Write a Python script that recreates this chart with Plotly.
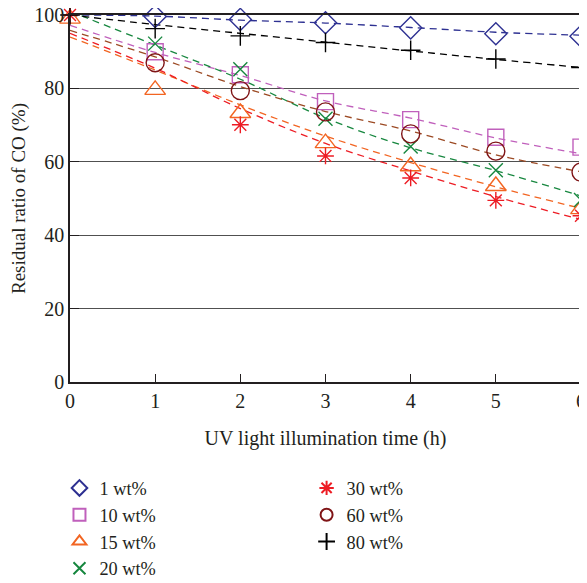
import plotly.graph_objects as go

hours = [0, 1, 2, 3, 4, 5, 6]
series_names = ["1 wt%", "10 wt%", "15 wt%", "20 wt%", "30 wt%", "60 wt%", "80 wt%"]

# measured points (%)
pts_1 = [100.5, 99.6, 98.8, 97.9, 96.5, 94.9, 94.2]
pts_10 = [100.5, 90.0, 83.7, 76.4, 71.5, 66.7, 64.0]
pts_15 = [99.0, 79.6, 73.3, 65.1, 58.8, 53.4, 47.1]
pts_20 = [101.0, 92.2, 85.2, 71.7, 64.2, 57.7, 49.6]
pts_30 = [100.0, None, 70.1, 61.6, 55.6, 49.5, 45.3]
pts_60 = [100.5, 87.0, 79.4, 73.6, 67.6, 62.9, 57.2]
pts_80 = [100.0, 96.3, 94.3, 92.5, 90.4, 88.0, 85.7]

# fitted (dashed) curves (%)
fit_1 = [100.0, 99.7, 98.6, 97.8, 96.6, 95.3, 94.5]
fit_10 = [97.2, 89.8, 83.5, 76.6, 71.9, 66.5, 62.2]
fit_15 = [94.0, 85.0, 75.5, 67.0, 59.8, 53.2, 47.3]
fit_20 = [101.0, 91.8, 82.5, 71.9, 63.8, 57.6, 50.7]
fit_30 = [95.0, 85.5, 74.5, 65.0, 57.5, 50.5, 44.3]
fit_60 = [95.8, 88.6, 80.5, 73.7, 68.4, 61.9, 57.3]
fit_80 = [100.0, 97.4, 95.0, 92.6, 90.2, 87.9, 85.7]

x_ticks = [0, 1, 2, 3, 4, 5, 6]
y_ticks = [0, 20, 40, 60, 80, 100]

points = [pts_1, pts_10, pts_15, pts_20, pts_30, pts_60, pts_80]
fits = [fit_1, fit_10, fit_15, fit_20, fit_30, fit_60, fit_80]
symbols = ["diamond-open", "square-open", "triangle-up-open", "x-thin-open",
           "asterisk-open", "circle-open", "cross-thin-open"]
sizes = [17, 16, 18, 14, 14, 18, 14]
marker_colors = ["#2e3192", "#c060bc", "#f26522", "#17873f", "#ed1c24", "#7f1416", "#000000"]
line_colors = ["#2e3192", "#c060bc", "#f26522", "#17873f", "#ed1c24", "#9c4a24", "#000000"]
legend_ids = ["legend", "legend", "legend", "legend", "legend2", "legend2", "legend2"]

FONT = "Liberation Serif"

fig = go.Figure()
for i in range(7):
    fig.add_trace(go.Scatter(
        x=hours, y=fits[i], mode="lines", line=dict(color=line_colors[i], width=1.3, dash="7px,5px", shape="spline"),
        showlegend=False, hoverinfo="skip", cliponaxis=False))
for i in range(7):
    fig.add_trace(go.Scatter(
        x=hours, y=points[i], mode="markers", name=series_names[i],
        marker=dict(symbol=symbols[i], size=sizes[i], color=marker_colors[i],
                    line=dict(color=marker_colors[i], width=1.4)),
        legend=legend_ids[i], cliponaxis=False))

legend_common = dict(xanchor="left", yanchor="top", orientation="v",
                     font=dict(size=18.3, family=FONT), tracegroupgap=0, bgcolor="rgba(0,0,0,0)",
                     itemsizing="constant")

# the page body adds an 8px offset, so the figure is 8px smaller than the window
fig.update_layout(
    width=579, height=575,
    margin=dict(l=62, r=6, t=7, b=201, autoexpand=False),
    paper_bgcolor="white", plot_bgcolor="white",
    font=dict(family=FONT, size=20, color="#231f20"),
    xaxis=dict(range=[0, 6], tickvals=x_ticks, ticks="inside", ticklen=8, tickwidth=1.3,
               tickcolor="#231f20", showline=True, linecolor="#231f20", linewidth=1.5, mirror=True,
               showgrid=False, zeroline=False, tickfont=dict(size=20, family=FONT), automargin=False,
               ticklabeloverflow="allow",
               title=dict(text="UV light illumination time (h)", font=dict(size=20, family=FONT), standoff=20)),
    yaxis=dict(range=[0, 100], tickvals=y_ticks, ticks="inside", ticklen=9, tickwidth=1.3,
               tickcolor="#231f20", showline=True, linecolor="#231f20", linewidth=1.5, mirror=True,
               showgrid=True, gridcolor="#505050", gridwidth=1.4, zeroline=False,
               tickfont=dict(size=20, family=FONT), automargin=False, ticklabeloverflow="allow",
               title=dict(text="Residual ratio of CO (%)", font=dict(size=19, family=FONT), standoff=4)),
    legend=dict(x=-0.0206, y=-0.2385, **legend_common),
    legend2=dict(x=0.463, y=-0.2385, **legend_common),
)

fig.write_html("out.html")
